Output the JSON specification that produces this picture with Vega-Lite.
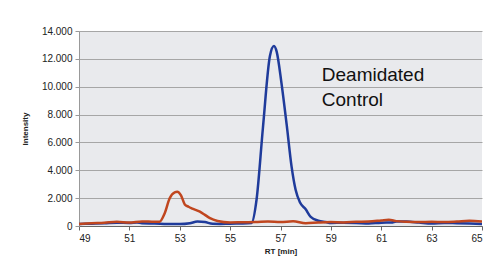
{
  "$schema": "https://vega.github.io/schema/vega-lite/v6.json",
  "width": 403,
  "height": 195,
  "autosize": {"type": "none"},
  "padding": {"left": 79, "top": 31, "right": 5, "bottom": 40},
  "background": "white",
  "config": {
    "font": "Liberation Sans",
    "view": {"fill": "#e9eaed", "stroke": null},
    "axis": {"labelFont": "Liberation Sans", "titleFont": "Liberation Sans", "labelColor": "#222", "titleColor": "#222", "labelOverlap": false}
  },
  "datasets": {
    "series": [
      {"rt": 49.0, "i": 150, "s": "Deamidated"},
      {"rt": 49.5, "i": 170, "s": "Deamidated"},
      {"rt": 50.0, "i": 190, "s": "Deamidated"},
      {"rt": 50.5, "i": 230, "s": "Deamidated"},
      {"rt": 51.0, "i": 220, "s": "Deamidated"},
      {"rt": 51.3, "i": 260, "s": "Deamidated"},
      {"rt": 51.5, "i": 200, "s": "Deamidated"},
      {"rt": 52.0, "i": 180, "s": "Deamidated"},
      {"rt": 52.5, "i": 150, "s": "Deamidated"},
      {"rt": 53.0, "i": 140, "s": "Deamidated"},
      {"rt": 53.4, "i": 200, "s": "Deamidated"},
      {"rt": 53.7, "i": 320, "s": "Deamidated"},
      {"rt": 54.0, "i": 280, "s": "Deamidated"},
      {"rt": 54.3, "i": 160, "s": "Deamidated"},
      {"rt": 54.6, "i": 150, "s": "Deamidated"},
      {"rt": 55.0, "i": 170, "s": "Deamidated"},
      {"rt": 55.5, "i": 180, "s": "Deamidated"},
      {"rt": 55.85, "i": 220, "s": "Deamidated"},
      {"rt": 56.05, "i": 1900, "s": "Deamidated"},
      {"rt": 56.3, "i": 7000, "s": "Deamidated"},
      {"rt": 56.58, "i": 12200, "s": "Deamidated"},
      {"rt": 56.74, "i": 12920, "s": "Deamidated"},
      {"rt": 56.85, "i": 12500, "s": "Deamidated"},
      {"rt": 57.04, "i": 10240, "s": "Deamidated"},
      {"rt": 57.25, "i": 7200, "s": "Deamidated"},
      {"rt": 57.44, "i": 4260, "s": "Deamidated"},
      {"rt": 57.6, "i": 2600, "s": "Deamidated"},
      {"rt": 57.77, "i": 1700, "s": "Deamidated"},
      {"rt": 58.0, "i": 1200, "s": "Deamidated"},
      {"rt": 58.2, "i": 650, "s": "Deamidated"},
      {"rt": 58.5, "i": 380, "s": "Deamidated"},
      {"rt": 58.8, "i": 280, "s": "Deamidated"},
      {"rt": 59.0, "i": 220, "s": "Deamidated"},
      {"rt": 59.5, "i": 230, "s": "Deamidated"},
      {"rt": 60.0, "i": 220, "s": "Deamidated"},
      {"rt": 60.5, "i": 180, "s": "Deamidated"},
      {"rt": 61.0, "i": 240, "s": "Deamidated"},
      {"rt": 61.4, "i": 250, "s": "Deamidated"},
      {"rt": 61.6, "i": 330, "s": "Deamidated"},
      {"rt": 62.0, "i": 320, "s": "Deamidated"},
      {"rt": 62.5, "i": 250, "s": "Deamidated"},
      {"rt": 63.0, "i": 180, "s": "Deamidated"},
      {"rt": 63.5, "i": 220, "s": "Deamidated"},
      {"rt": 64.0, "i": 200, "s": "Deamidated"},
      {"rt": 64.5, "i": 180, "s": "Deamidated"},
      {"rt": 65.0, "i": 150, "s": "Deamidated"},
      {"rt": 49.0, "i": 150, "s": "Control"},
      {"rt": 49.5, "i": 200, "s": "Control"},
      {"rt": 50.0, "i": 230, "s": "Control"},
      {"rt": 50.5, "i": 300, "s": "Control"},
      {"rt": 51.0, "i": 250, "s": "Control"},
      {"rt": 51.5, "i": 330, "s": "Control"},
      {"rt": 52.0, "i": 300, "s": "Control"},
      {"rt": 52.2, "i": 310, "s": "Control"},
      {"rt": 52.4, "i": 900, "s": "Control"},
      {"rt": 52.6, "i": 1990, "s": "Control"},
      {"rt": 52.8, "i": 2420, "s": "Control"},
      {"rt": 52.9, "i": 2460, "s": "Control"},
      {"rt": 53.05, "i": 2200, "s": "Control"},
      {"rt": 53.2, "i": 1550, "s": "Control"},
      {"rt": 53.35, "i": 1380, "s": "Control"},
      {"rt": 53.5, "i": 1250, "s": "Control"},
      {"rt": 53.8, "i": 1030, "s": "Control"},
      {"rt": 54.0, "i": 800, "s": "Control"},
      {"rt": 54.2, "i": 560, "s": "Control"},
      {"rt": 54.5, "i": 360, "s": "Control"},
      {"rt": 55.0, "i": 250, "s": "Control"},
      {"rt": 55.5, "i": 270, "s": "Control"},
      {"rt": 56.0, "i": 280, "s": "Control"},
      {"rt": 56.5, "i": 330, "s": "Control"},
      {"rt": 57.0, "i": 280, "s": "Control"},
      {"rt": 57.5, "i": 340, "s": "Control"},
      {"rt": 58.0, "i": 200, "s": "Control"},
      {"rt": 58.5, "i": 250, "s": "Control"},
      {"rt": 59.0, "i": 280, "s": "Control"},
      {"rt": 59.5, "i": 260, "s": "Control"},
      {"rt": 60.0, "i": 300, "s": "Control"},
      {"rt": 60.5, "i": 320, "s": "Control"},
      {"rt": 61.0, "i": 400, "s": "Control"},
      {"rt": 61.3, "i": 450, "s": "Control"},
      {"rt": 61.6, "i": 350, "s": "Control"},
      {"rt": 62.0, "i": 300, "s": "Control"},
      {"rt": 62.5, "i": 280, "s": "Control"},
      {"rt": 63.0, "i": 300, "s": "Control"},
      {"rt": 63.5, "i": 280, "s": "Control"},
      {"rt": 64.0, "i": 320, "s": "Control"},
      {"rt": 64.5, "i": 380, "s": "Control"},
      {"rt": 65.0, "i": 320, "s": "Control"}
    ],
    "labels": [
      {"rt": 58.64, "i": 10850, "t": "Deamidated"},
      {"rt": 58.64, "i": 9050, "t": "Control"}
    ]
  },
  "encoding": {
    "x": {
      "field": "rt", "type": "quantitative",
      "scale": {"domain": [49, 65], "nice": false, "zero": false},
      "axis": {"values": [49, 51, 53, 55, 57, 59, 61, 63, 65], "title": "RT [min]", "titleFontSize": 8, "titleFontWeight": "bold", "titlePadding": 4, "labelFontSize": 10, "grid": false, "domainColor": "#666", "tickColor": "#666", "tickSize": 4, "labelPadding": 3}
    },
    "y": {
      "field": "i", "type": "quantitative",
      "scale": {"domain": [0, 14000], "nice": false},
      "axis": {"values": [0, 2000, 4000, 6000, 8000, 10000, 12000, 14000], "title": "Intensity", "titleFontSize": 8, "titleFontWeight": "bold", "titlePadding": 12, "labelFontSize": 10, "labelExpr": "replace(format(datum.value, ','), /,/g, '.')", "gridColor": "#a6a6a6", "gridWidth": 1, "domainColor": "#999", "tickColor": "#999", "tickSize": 4, "labelPadding": 3}
    }
  },
  "layer": [
    {
      "data": {"name": "series"},
      "mark": {"type": "line", "strokeWidth": 2.5, "interpolate": "monotone", "clip": true},
      "encoding": {
        "color": {
          "field": "s", "type": "nominal",
          "scale": {"domain": ["Deamidated", "Control"], "range": ["#1f3b9b", "#c0461f"]},
          "legend": null
        },
        "order": {"field": "rt"}
      }
    },
    {
      "data": {"name": "labels"},
      "mark": {"type": "text", "align": "left", "baseline": "middle", "fontSize": 19, "font": "Liberation Sans", "color": "#111"},
      "encoding": {
        "text": {"field": "t"}
      }
    }
  ]
}
